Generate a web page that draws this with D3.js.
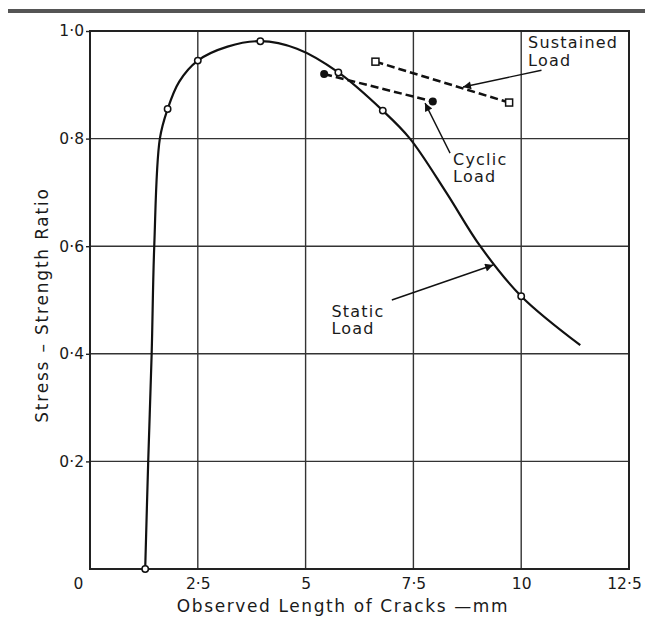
<!DOCTYPE html>
<html><head><meta charset="utf-8">
<script src="https://cdn.jsdelivr.net/npm/d3@7"></script>
<style>body{margin:0;background:#fff}svg{display:block}text{font-family:"DejaVu Sans",sans-serif;fill:#1a1a1a}</style>
</head><body>
<svg id="c" width="645" height="628"></svg>
<script>
// data
const xTicks = [0, 2.5, 5, 7.5, 10, 12.5];
const xTickLabels = ["0", "2·5", "5", "7·5", "10", "12·5"];
const yTicks = [0.2, 0.4, 0.6, 0.8, 1.0];
const yTickLabels = ["0·2", "0·4", "0·6", "0·8", "1·0"];
const staticCurveX = [1.28, 1.35, 1.43, 1.49, 1.62, 1.80, 2.07, 2.5, 3.19, 3.95, 4.8, 5.76, 6.79, 7.42, 8.26, 9.05, 10, 11.37];
const staticCurveY = [0, 0.2, 0.4, 0.6, 0.8, 0.855, 0.906, 0.945, 0.971, 0.981, 0.967, 0.923, 0.852, 0.8, 0.7, 0.6, 0.507, 0.416];
const staticPtsX = [1.28, 1.80, 2.5, 3.95, 5.76, 6.79, 10];
const staticPtsY = [0, 0.855, 0.945, 0.981, 0.923, 0.852, 0.507];
const sustainedX = [6.62, 9.72];
const sustainedY = [0.943, 0.867];
const cyclicX = [5.43, 7.95];
const cyclicY = [0.920, 0.869];
const labelNames = [["Sustained", "Load"], ["Cyclic", "Load"], ["Static", "Load"]];
const labelAt = [[10.16, 0.968], [8.42, 0.751], [5.6, 0.469]];
const arrowFrom = [[10.47, 0.927], [8.35, 0.773], [7.0, 0.5]];
const arrowTo = [[8.65, 0.896], [7.77, 0.866], [9.35, 0.565]];

const svg = d3.select("#c");
const x = d3.scaleLinear().domain([0, 12.5]).range([90, 629]);
const y = d3.scaleLinear().domain([0, 1]).range([569, 31]);

// top bar
svg.append("rect").attr("x", 8).attr("y", 9).attr("width", 637).attr("height", 4).attr("fill", "#555");

// grid
const g = svg.append("g");
g.selectAll("line.v").data(xTicks.slice(1, -1)).join("line")
  .attr("x1", d => x(d)).attr("x2", d => x(d)).attr("y1", y(0)).attr("y2", y(1))
  .attr("stroke", "#333").attr("stroke-width", 1.4);
g.selectAll("line.h").data(yTicks.slice(0, -1)).join("line")
  .attr("x1", x(0)).attr("x2", x(12.5)).attr("y1", d => y(d)).attr("y2", d => y(d))
  .attr("stroke", "#333").attr("stroke-width", 1.4);
g.append("rect").attr("x", x(0)).attr("y", y(1)).attr("width", x(12.5) - x(0)).attr("height", y(0) - y(1))
  .attr("fill", "none").attr("stroke", "#222").attr("stroke-width", 2);

// axes via d3
const xAxis = d3.axisBottom(x).tickValues(xTicks).tickFormat((d, i) => xTickLabels[i]).tickSize(0).tickPadding(9);
const ax = svg.append("g").attr("transform", `translate(0,${y(0)})`).call(xAxis);
ax.select(".domain").remove();
ax.selectAll("text").attr("font-size", 15.5).attr("font-family", "DejaVu Sans").attr("fill", "#1a1a1a");
ax.selectAll(".tick").filter(d => d === 0).select("text").attr("dx", -12);
ax.selectAll(".tick").filter(d => d === 12.5).select("text").attr("dx", -5);

const yAxis = d3.axisLeft(y).tickValues(yTicks).tickFormat((d, i) => yTickLabels[i]).tickSize(4).tickPadding(2);
const ay = svg.append("g").attr("transform", `translate(${x(0)},0)`).call(yAxis);
ay.select(".domain").remove();
ay.selectAll("line").attr("stroke", "#222").attr("stroke-width", 1.4);
ay.selectAll("text").attr("font-size", 15.5).attr("font-family", "DejaVu Sans").attr("fill", "#1a1a1a");

// titles
svg.append("text").attr("x", 343).attr("y", 612).attr("text-anchor", "middle").attr("font-size", 17)
  .attr("letter-spacing", 1.6).text("Observed Length of Cracks —mm");
svg.append("text").attr("transform", "translate(48,305) rotate(-90)").attr("text-anchor", "middle").attr("font-size", 17)
  .attr("letter-spacing", 1.8).text("Stress – Strength Ratio");

// static curve
const staticCurve = staticCurveX.map((v, i) => [v, staticCurveY[i]]);
const line = d3.line().x(d => x(d[0])).y(d => y(d[1])).curve(d3.curveCatmullRom.alpha(0.5));
svg.append("path").attr("d", line(staticCurve)).attr("fill", "none").attr("stroke", "#111").attr("stroke-width", 2.2);

// dashed series
const sus = sustainedX.map((v, i) => [v, sustainedY[i]]);
const cyc = cyclicX.map((v, i) => [v, cyclicY[i]]);
const straight = d3.line().x(d => x(d[0])).y(d => y(d[1]));
svg.append("path").attr("d", straight(sus)).attr("fill", "none").attr("stroke", "#111").attr("stroke-width", 2.5).attr("stroke-dasharray", "8,4");
svg.append("path").attr("d", straight(cyc)).attr("fill", "none").attr("stroke", "#111").attr("stroke-width", 2.5).attr("stroke-dasharray", "8,4");

// markers
const sp = staticPtsX.map((v, i) => [v, staticPtsY[i]]);
svg.selectAll("circle.s").data(sp).join("circle").attr("cx", d => x(d[0])).attr("cy", d => y(d[1])).attr("r", 3.2)
  .attr("fill", "#fff").attr("stroke", "#111").attr("stroke-width", 1.5);
svg.selectAll("rect.su").data(sus).join("rect").attr("x", d => x(d[0]) - 3.5).attr("y", d => y(d[1]) - 3.5)
  .attr("width", 7).attr("height", 7).attr("fill", "#fff").attr("stroke", "#111").attr("stroke-width", 1.5);
svg.selectAll("circle.c").data(cyc).join("circle").attr("cx", d => x(d[0])).attr("cy", d => y(d[1])).attr("r", 4)
  .attr("fill", "#111");

// arrows
svg.append("defs").append("marker").attr("id", "ah").attr("viewBox", "0 0 10 10").attr("refX", 10).attr("refY", 5)
  .attr("markerWidth", 12).attr("markerHeight", 8).attr("markerUnits", "userSpaceOnUse").attr("orient", "auto")
  .append("path").attr("d", "M0,0 L10,5 L0,10 Z").attr("fill", "#111");
arrowFrom.forEach((f, i) => {
  svg.append("line").attr("x1", x(f[0])).attr("y1", y(f[1])).attr("x2", x(arrowTo[i][0])).attr("y2", y(arrowTo[i][1]))
    .attr("stroke", "#111").attr("stroke-width", 1.4).attr("marker-end", "url(#ah)");
});

// labels (one text element per line)
labelNames.forEach((lines, i) => {
  lines.forEach((s, j) => {
    svg.append("text").attr("x", x(labelAt[i][0])).attr("y", y(labelAt[i][1]) + j * 17.5)
      .attr("font-size", 16).attr("letter-spacing", 1.2).text(s);
  });
});
</script>
</body></html>
